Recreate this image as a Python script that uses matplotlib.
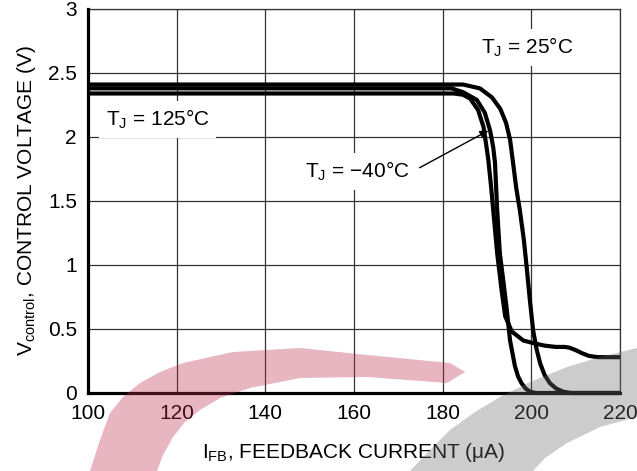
import matplotlib
matplotlib.use('Agg')
import matplotlib.pyplot as plt
from matplotlib.patches import Polygon

plt.rcParams['font.family'] = ['Liberation Sans', 'DejaVu Sans']
plt.rcParams['mathtext.fontset'] = 'custom'
plt.rcParams['mathtext.rm'] = 'Liberation Sans'
plt.rcParams['mathtext.it'] = 'Liberation Sans:italic'

# datos
x_ticks = [100, 120, 140, 160, 180, 200, 220]
y_ticks = [0, 0.5, 1, 1.5, 2, 2.5, 3]
y_tick_labels = ['0', '0.5', '1', '1.5', '2', '2.5', '3']

i_25 = [100, 182, 184.6, 188.4, 191.1, 193.0, 194.3, 195.2, 195.8, 196.6, 197.4, 198.3,
        198.9, 199.6, 200.4, 201.2, 202.0, 203.0, 204.2, 205.6, 207.2, 209, 220]
v_25 = [2.41, 2.41, 2.41, 2.38, 2.31, 2.22, 2.11, 1.98, 1.82, 1.60, 1.43, 1.2,
        1.0, 0.75, 0.49, 0.34, 0.23, 0.14, 0.076, 0.035, 0.01, 0, 0]

i_125 = [100, 180, 182.5, 184.6, 186.2, 188.0, 189.2, 189.9, 190.3, 190.9, 191.4, 192.3,
         193.3, 194.1, 195.6, 198.2, 200.4, 203, 205.5, 207.5, 208.5, 210, 211.5, 213,
         215, 220]
v_125 = [2.34, 2.34, 2.34, 2.33, 2.30, 2.21, 2.08, 1.92, 1.82, 1.62, 1.43, 1.09,
         0.80, 0.60, 0.48, 0.41, 0.39, 0.37, 0.36, 0.36, 0.355, 0.335, 0.31, 0.29,
         0.28, 0.28]

i_m40 = [100, 182, 184.6, 187.7, 189.5, 190.7, 191.4, 191.8, 192.3, 192.9, 193.7, 194.4,
         195.2, 196.3, 197.0, 197.8, 198.7, 199.7, 201, 220]
v_m40 = [2.38, 2.38, 2.35, 2.29, 2.19, 2.05, 1.92, 1.80, 1.43, 1.09, 0.87, 0.67,
         0.41, 0.21, 0.13, 0.076, 0.035, 0.01, 0, 0]

fig = plt.figure(figsize=(6.37, 4.71), dpi=100)
ax = fig.add_axes([88 / 637, 78 / 471, 532 / 637, 384 / 471])

for xs, ys in [(i_125, v_125), (i_m40, v_m40), (i_25, v_25)]:
    ax.plot(xs, ys, color='black', lw=3, solid_joinstyle='round',
            solid_capstyle='butt', clip_on=False, zorder=3)

ax.set_xlim(100, 220)
ax.set_ylim(0, 3)
ax.set_xticks(x_ticks)
ax.set_yticks(y_ticks)
ax.set_yticklabels(y_tick_labels)
ax.tick_params(length=0, labelsize=15, pad=8)
ax.grid(True, color='#333333', lw=0.9)
ax.set_axisbelow(True)
for lado in ['top', 'right']:
    ax.spines[lado].set_linewidth(0.9)
    ax.spines[lado].set_color('#333333')
for lado in ['left', 'bottom']:
    ax.spines[lado].set_linewidth(2.3)
    ax.spines[lado].set_zorder(4)

ax.set_xlabel(r'I$_\mathrm{FB}$, FEEDBACK CURRENT ($\mathrm{\mu}$A)', fontsize=15, labelpad=13)
ax.set_ylabel(r'V$_\mathrm{control}$, CONTROL VOLTAGE (V)', fontsize=15, labelpad=7)

caja = dict(facecolor='white', edgecolor='none', pad=5)
ax.text(199.0, 2.70, r'T$_\mathrm{J}$ = 25°C', fontsize=15, ha='center', va='center', bbox=caja, zorder=5)
ax.text(115.7, 2.14, r'T$_\mathrm{J}$ = 125°C', fontsize=15, ha='center', va='center', bbox=caja, zorder=5)
ax.text(160.7, 1.73, r'T$_\mathrm{J}$ = −40°C', fontsize=15, ha='center', va='center', bbox=caja, zorder=5)
ax.annotate('', xy=(190.3, 2.05), xytext=(174.8, 1.76),
            arrowprops=dict(arrowstyle='-|>', color='black', lw=1, mutation_scale=12,
                            shrinkA=0, shrinkB=0), zorder=5)

# marca de agua (pixeles de la imagen)
rosa = [(90, 471), (100, 440), (110, 413), (123, 397), (140, 383), (160, 372), (183, 363),
        (233, 352), (300, 348), (367, 355), (450, 363), (465, 372), (447, 383),
        (367, 377), (300, 378), (250, 388), (220, 398), (200, 410), (185, 422),
        (173, 437), (163, 455), (157, 471)]
gris = [(410, 471), (430, 450), (450, 430), (475, 412), (500, 397), (530, 382), (567, 367),
        (600, 357), (637, 348), (637, 417), (600, 427), (567, 443), (545, 458), (533, 471)]
for pts, col in [(rosa, '#bd2e4b'), (gris, '#6e6e6e')]:
    fig.patches.append(Polygon([(px / 637, 1 - py / 471) for px, py in pts], closed=True,
                               transform=fig.transFigure, facecolor=col, edgecolor='none',
                               alpha=0.35, zorder=10))

fig.savefig('out.png', dpi=100)
